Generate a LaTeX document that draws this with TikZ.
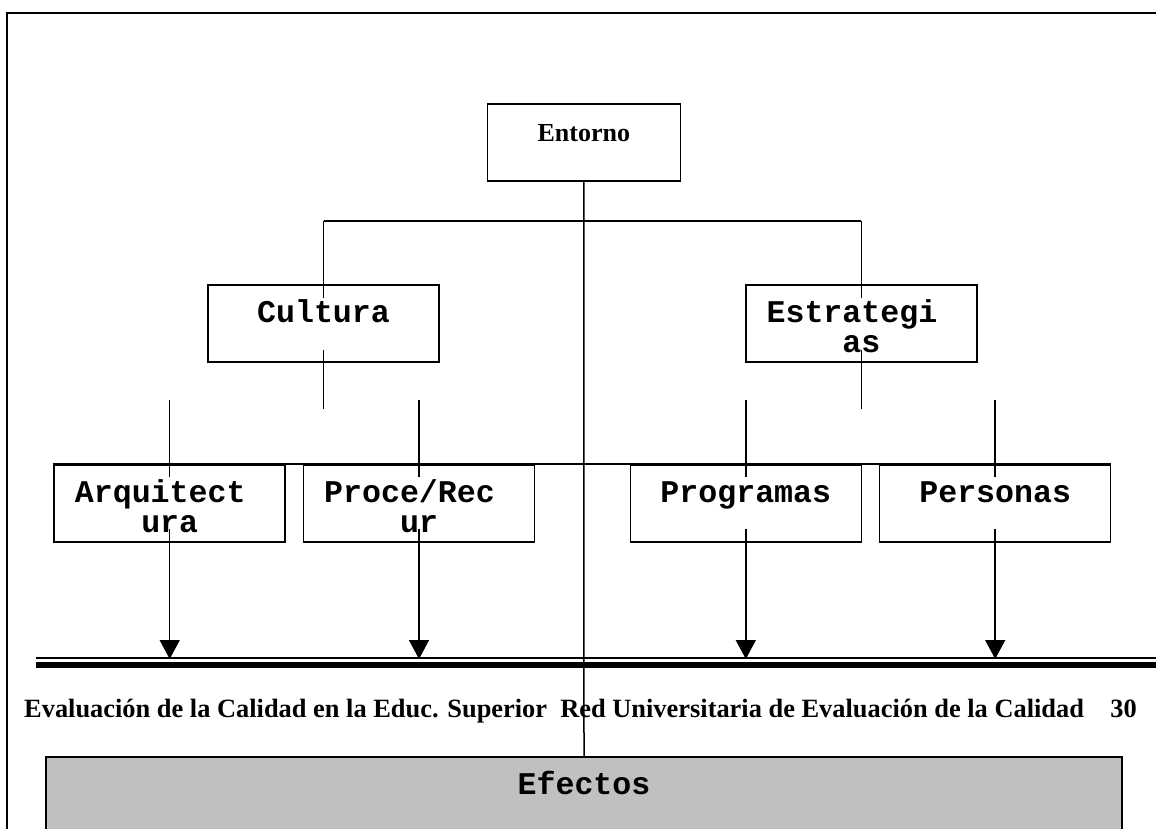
\documentclass[tikz,border=0pt]{standalone}
\usepackage{fontspec}
\setmainfont{Liberation Serif}
\newfontfamily\courfont{Liberation Mono}
\usetikzlibrary{arrows.meta}
\definecolor{gris}{RGB}{192,192,192}

\begin{document}
\begin{tikzpicture}[x=1pt,y=-1pt,
                caja/.style={draw=black,line width=1.5pt,minimum width=231pt,minimum height=77pt,
                    inner sep=0pt,text height=37.5pt,text depth=39.5pt,align=center,anchor=north,
                    font=\courfont\bfseries\fontsize{31.6}{30}\selectfont},
                caja2/.style={caja,text height=67.5pt,text depth=9.5pt},
                linea/.style={line width=1.5pt},
                flecha/.style={line width=1.5pt,-{Triangle[length=19pt,width=20pt]}}
            ]
                \useasboundingbox (0,0) rectangle (1156,828);
                \clip (0,0) rectangle (1156,828);
                % marco
                \draw[line width=2pt] (7,840) -- (7,13) -- (1160,13);
                \coordinate (barra) at (0,221);
                \coordinate (riel) at (0,659);
                % cajas
                \node[caja,minimum width=193pt,font=\rmfamily\bfseries\fontsize{26}{30}\selectfont] (ent) at (583.8,103.3) {Entorno};
                \node[caja] (cult) at (323.5,284) {Cultura};
                \node[caja2] (estr) at (861.4,284) {Estrategi\phantom{x}\\as};
                \node[caja2] (arq) at (169.7,464) {Arquitect\phantom{x}\\ura};
                \node[caja2] (proc) at (419,464) {Proce/Rec\phantom{x}\\ur};
                \node[caja] (prog) at (745.8,464) {Programas};
                \node[caja] (pers) at (995.2,464) {Personas};
                \node[caja,minimum width=1076pt,fill=gris] (efe) at (584,756) {Efectos};
                % conectores
                \draw[linea] (cult.north |- barra) -- (estr.north |- barra);
                \foreach \b in {cult,estr}
                    {
                    \draw[linea] ([yshift=-14pt]\b.north) -- (\b.north |- barra);
                    \draw[linea] ([yshift=13pt]\b.south) -- ([yshift=-46pt]\b.south);
                }
                \draw[linea] (arq.north west) -- (pers.north east);
                \foreach \b in {arq,proc,prog,pers}
                    {
                    \draw[linea] ([yshift=64pt]\b.north) -- ([yshift=-13pt]\b.north);
                    \draw[flecha] ([yshift=14pt]\b.south) -- (\b.south |- riel);
                }
                % riel doble
                \draw[line width=1.5pt] (35.5,658) -- (1160,658);
                \draw[line width=6.8pt] (35.5,665) -- (1160,665);
                \draw[linea] (ent.south) -- (efe.north);
                \node[anchor=base west,inner sep=0pt,font=\bfseries\fontsize{26.4}{30}\selectfont] (pie) at (24,717)
                    {Evaluación de la Calidad en la Educ. Superior\ \ Red Universitaria de Evaluación de la Calidad\ \ \ \ 30};

            \end{tikzpicture}
\end{document}
